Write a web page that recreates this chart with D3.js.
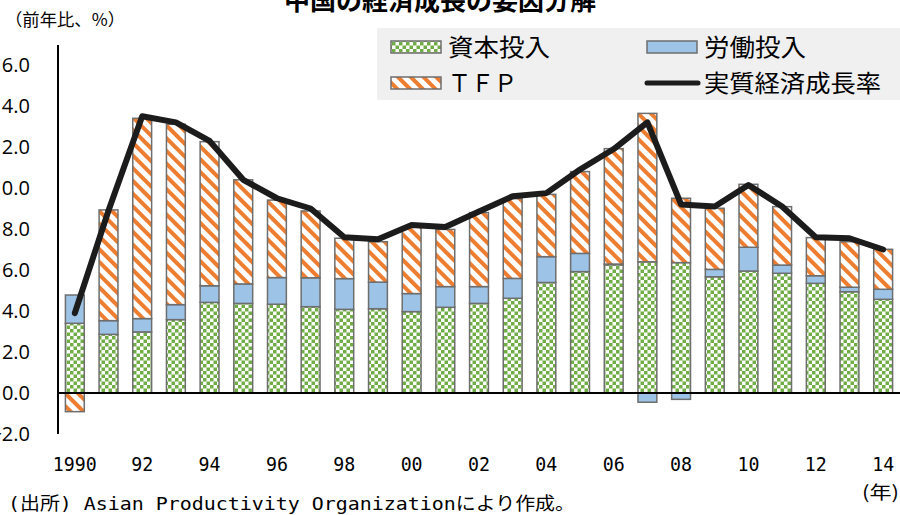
<!DOCTYPE html>
<html>
<head>
<meta charset="utf-8">
<script src="https://cdn.jsdelivr.net/npm/d3@7"></script>
<style>
  html, body { margin: 0; padding: 0; background: #fff; }
  svg { display: block; }
  text { font-family: "Noto Sans CJK JP", "Noto Sans", sans-serif; fill: #000; }
  .narrow { font-family: "DejaVu Sans Mono", "Noto Sans CJK JP", monospace; }
</style>
</head>
<body>
<div id="chart"></div>
<script>
const years = [1990, 1991, 1992, 1993, 1994, 1995, 1996, 1997, 1998, 1999, 2000, 2001, 2002,
  2003, 2004, 2005, 2006, 2007, 2008, 2009, 2010, 2011, 2012, 2013, 2014];
const capital = [3.40, 2.86, 2.98, 3.58, 4.42, 4.37, 4.33, 4.21, 4.08, 4.11, 3.97, 4.18, 4.37,
  4.62, 5.39, 5.92, 6.26, 6.40, 6.36, 5.67, 5.95, 5.84, 5.35, 4.94, 4.57];
const labor = [1.38, 0.67, 0.65, 0.73, 0.81, 0.95, 1.30, 1.41, 1.50, 1.30, 0.88, 1.01, 0.82,
  0.97, 1.26, 0.89, 0.03, -0.45, -0.31, 0.36, 1.16, 0.40, 0.37, 0.22, 0.49];
const tfp = [-0.91, 5.40, 9.77, 8.80, 7.03, 5.08, 3.78, 3.26, 1.97, 1.97, 3.26, 2.79, 3.61,
  3.89, 3.04, 3.99, 5.63, 7.24, 3.14, 2.98, 3.07, 2.85, 1.86, 2.22, 1.95];
const growth = [3.9, 8.9, 13.5, 13.2, 12.3, 10.4, 9.5, 9.0, 7.6, 7.5, 8.2, 8.1, 8.85,
  9.6, 9.75, 10.9, 11.9, 13.2, 9.2, 9.1, 10.15, 9.1, 7.6, 7.55, 7.0];
const yTicks = [-2, 0, 2, 4, 6, 8, 10, 12, 14, 16];
const xTickYears = [1990, 1992, 1994, 1996, 1998, 2000, 2002, 2004, 2006, 2008, 2010, 2012, 2014];
const xTickLabels = ["1990", "92", "94", "96", "98", "00", "02", "04", "06", "08", "10", "12", "14"];

const width = 900;
const height = 515;
const keys = ["capital", "labor", "tfp"];

const rows = years.map((year, i) => ({
  year,
  capital: capital[i],
  labor: labor[i],
  tfp: tfp[i],
  growth: growth[i]
}));

const svg = d3.select("#chart").append("svg")
  .attr("width", width)
  .attr("height", height);

const defs = svg.append("defs");

// 資本投入: 緑の市松模様
const checker = defs.append("pattern")
  .attr("id", "checker")
  .attr("patternUnits", "userSpaceOnUse")
  .attr("width", 7)
  .attr("height", 7);
checker.append("rect").attr("width", 7).attr("height", 7).attr("fill", "#fff");
checker.append("rect").attr("width", 3.5).attr("height", 3.5).attr("fill", "#70ad47");
checker.append("rect").attr("x", 3.5).attr("y", 3.5).attr("width", 3.5).attr("height", 3.5).attr("fill", "#70ad47");

// TFP: オレンジの斜線
const stripes = defs.append("pattern")
  .attr("id", "stripes")
  .attr("patternUnits", "userSpaceOnUse")
  .attr("width", 9)
  .attr("height", 9)
  .attr("patternTransform", "rotate(-45)");
stripes.append("rect").attr("width", 9).attr("height", 9).attr("fill", "#fff");
stripes.append("rect").attr("width", 4).attr("height", 9).attr("fill", "#ed7d31");

const fills = {
  capital: "url(#checker)",
  labor: "#9dc3e6",
  tfp: "url(#stripes)"
};

const x = d3.scaleBand()
  .domain(years)
  .range([58, 900])
  .paddingInner(0.44)
  .paddingOuter(0.22);

const y = d3.scaleLinear()
  .domain([-2, 16])
  .range([434, 65]);

const series = d3.stack()
  .keys(keys)
  .offset(d3.stackOffsetDiverging)(rows);

// 棒
svg.append("g")
  .selectAll("g")
  .data(series)
  .join("g")
  .attr("fill", d => fills[d.key])
  .selectAll("rect")
  .data(d => d)
  .join("rect")
  .attr("x", d => x(d.data.year))
  .attr("width", x.bandwidth())
  .attr("y", d => y(Math.max(d[0], d[1])))
  .attr("height", d => Math.abs(y(d[0]) - y(d[1])))
  .attr("stroke", "#6e6e6e")
  .attr("stroke-width", 1.5);

// 軸
svg.append("line")
  .attr("x1", 58).attr("x2", 58)
  .attr("y1", 45).attr("y2", y(-2))
  .attr("stroke", "#000")
  .attr("stroke-width", 2);

svg.append("line")
  .attr("x1", 58).attr("x2", 900)
  .attr("y1", y(0)).attr("y2", y(0))
  .attr("stroke", "#000")
  .attr("stroke-width", 2);

// 元図では左端で切れている目盛（16.0 → "6.0" など）
svg.append("g")
  .selectAll("text")
  .data(yTicks)
  .join("text")
  .attr("x", 30)
  .attr("y", d => y(d))
  .attr("dy", "0.35em")
  .attr("text-anchor", "end")
  .style("font-family", "'Open Sans', 'Noto Sans', sans-serif")
  .style("font-size", "20px")
  .text(d => d3.format(".1f")(d));

svg.append("g")
  .selectAll("text")
  .data(xTickYears)
  .join("text")
  .attr("class", "narrow")
  .attr("x", d => x(d) + x.bandwidth() / 2)
  .attr("y", 471)
  .attr("text-anchor", "middle")
  .attr("textLength", (d, i) => xTickLabels[i].length * 11)
  .attr("lengthAdjust", "spacingAndGlyphs")
  .style("font-size", "20px")
  .text((d, i) => xTickLabels[i]);

// 実質経済成長率
const line = d3.line()
  .x(d => x(d.year) + x.bandwidth() / 2)
  .y(d => y(d.growth));

svg.append("path")
  .datum(rows)
  .attr("d", line)
  .attr("fill", "none")
  .attr("stroke", "#1c1c1c")
  .attr("stroke-width", 6)
  .attr("stroke-linejoin", "round")
  .attr("stroke-linecap", "round");

// タイトル・注記
svg.append("text")
  .attr("x", 440)
  .attr("y", 10)
  .attr("text-anchor", "middle")
  .style("font-size", "26px")
  .style("font-weight", "bold")
  .text("中国の経済成長の要因分解");

svg.append("text")
  .attr("x", 5)
  .attr("y", 26)
  .attr("textLength", 120)
  .attr("lengthAdjust", "spacingAndGlyphs")
  .style("font-size", "17px")
  .text("（前年比、%）");

svg.append("text")
  .attr("x", 862)
  .attr("y", 499)
  .attr("textLength", 37)
  .attr("lengthAdjust", "spacingAndGlyphs")
  .style("font-size", "18px")
  .text("(年)");

svg.append("text")
  .attr("class", "narrow")
  .attr("x", 8)
  .attr("y", 510)
  .attr("textLength", 567)
  .attr("lengthAdjust", "spacingAndGlyphs")
  .style("font-size", "18px")
  .text("(出所) Asian Productivity Organizationにより作成。");

// 凡例
const legend = svg.append("g");
legend.append("rect")
  .attr("x", 377)
  .attr("y", 28)
  .attr("width", 523)
  .attr("height", 72)
  .attr("fill", "#f0f0f0");

const legendItems = [
  { label: "資本投入", type: "capital", x: 391, y: 47, len: 102 },
  { label: "労働投入", type: "labor", x: 647, y: 47, len: 102 },
  { label: "ＴＦＰ", type: "tfp", x: 391, y: 83, len: 69 },
  { label: "実質経済成長率", type: "line", x: 647, y: 83, len: 177 }
];

legendItems.forEach(item => {
  if (item.type === "line") {
    legend.append("line")
      .attr("x1", item.x).attr("x2", item.x + 51)
      .attr("y1", item.y).attr("y2", item.y)
      .attr("stroke", "#1c1c1c")
      .attr("stroke-width", 5)
      .attr("stroke-linecap", "round");
  } else {
    legend.append("rect")
      .attr("x", item.x)
      .attr("y", item.y - 6)
      .attr("width", 50)
      .attr("height", 12)
      .attr("fill", fills[item.type])
      .attr("stroke", "#6e6e6e")
      .attr("stroke-width", 1.5);
  }
  legend.append("text")
    .attr("x", item.x + 57)
    .attr("y", item.y)
    .attr("dy", "0.36em")
    .attr("textLength", item.len)
    .attr("lengthAdjust", "spacingAndGlyphs")
    .style("font-size", "24px")
    .text(item.label);
});
</script>
</body>
</html>
